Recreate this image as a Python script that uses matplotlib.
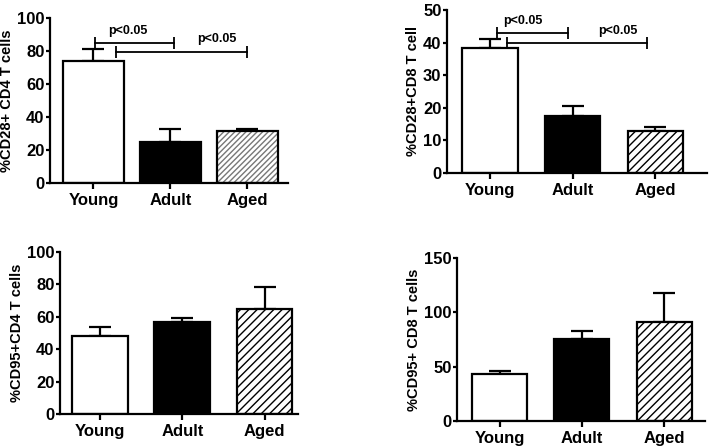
import matplotlib
matplotlib.use("Agg")
import matplotlib.pyplot as plt

plt.rcParams['font.family'] = ['Liberation Sans', 'DejaVu Sans']
plt.rcParams['font.weight'] = 'bold'
plt.rcParams['hatch.linewidth'] = 1.0

groups = ['Young', 'Adult', 'Aged']

cd28_cd4 = [74, 25, 31.5]
cd28_cd4_err = [7, 8, 1]
cd28_cd8 = [38.3, 17.6, 12.8]
cd28_cd8_err = [2.7, 2.9, 1.4]
cd95_cd4 = [48, 57, 65]
cd95_cd4_err = [5.5, 2, 13.5]
cd95_cd8 = [43, 75.5, 91]
cd95_cd8_err = [3, 7.5, 27]

# significance brackets: (x start, x end, y, text x, text y)
sig_cd4 = [(0.02, 1.05, 85, 0.45, 88.5), (0.29, 2.0, 79.5, 1.6, 83.5)]
sig_cd8 = [(0.08, 0.95, 43, 0.4, 44.7), (0.2, 1.9, 39.9, 1.55, 41.6)]

panels = [
    # data, err, ylabel, ylim, yticks, rect, xlim, width, sig, aged hatch style
    (cd28_cd4, cd28_cd4_err, '%CD28+ CD4 T cells', 100, [0, 20, 40, 60, 80, 100],
     [0.0703, 0.5906, 0.335, 0.369], (-0.565, 2.53), 0.8, sig_cd4, 'gray'),
    (cd28_cd8, cd28_cd8_err, '%CD28+CD8 T cell', 50, [0, 10, 20, 30, 40, 50],
     [0.6287, 0.613, 0.365, 0.3647], (-0.52, 2.62), 0.67, sig_cd8, 'hatch'),
    (cd95_cd4, cd95_cd4_err, '%CD95+CD4 T cells', 100, [0, 20, 40, 60, 80, 100],
     [0.0844, 0.0738, 0.335, 0.3624], (-0.49, 2.41), 0.68, None, 'hatch'),
    (cd95_cd8, cd95_cd8_err, '%CD95+ CD8 T cells', 150, [0, 50, 100, 150],
     [0.6428, 0.0582, 0.349, 0.3647], (-0.52, 2.5), 0.67, None, 'hatch'),
]

fig = plt.figure(figsize=(7.11, 4.47), dpi=100)

for data, err, ylab, ymax, yt, rect, xl, w, sig, aged in panels:
    ax = fig.add_axes(rect)
    x = list(range(len(groups)))
    ax.errorbar(x, data, yerr=[[0, 0, 0], err], fmt='none', ecolor='black',
                elinewidth=1.6, capsize=8, capthick=1.6, zorder=1)
    ax.bar(x[0], data[0], w, color='white', edgecolor='black', linewidth=1.6, zorder=2)
    ax.bar(x[1], data[1], w, color='black', edgecolor='black', linewidth=1.6, zorder=2)
    if aged == 'gray':
        ax.bar(x[2], data[2], w, color='white', edgecolor='#777777', hatch='//////',
               linewidth=0, zorder=2)
    else:
        ax.bar(x[2], data[2], w, color='white', edgecolor='black', hatch='////',
               linewidth=0, zorder=2)
    ax.bar(x[2], data[2], w, fill=False, edgecolor='black', linewidth=1.6, zorder=3)

    if sig:
        for x1, x2, yy, tx, ty in sig:
            ax.plot([x1, x2], [yy, yy], color='black', lw=1.3, marker='|',
                    markersize=8, markeredgewidth=1.3, zorder=4, clip_on=False)
            ax.text(tx, ty, 'p<0.05', ha='center', va='bottom', fontsize=9,
                    fontweight='bold')

    ax.set_xlim(*xl)
    ax.set_ylim(0, ymax)
    ax.set_yticks(yt)
    ax.set_xticks(x)
    ax.set_xticklabels(groups, fontsize=12, fontweight='bold')
    ax.tick_params(axis='y', labelsize=12, width=1.6, length=3, pad=1)
    ax.tick_params(axis='x', width=1.6, length=4, pad=3)
    for lbl in ax.get_yticklabels():
        lbl.set_fontweight('bold')
    ax.set_ylabel(ylab, fontsize=10.5, fontweight='bold', labelpad=2)
    ax.spines['top'].set_visible(False)
    ax.spines['right'].set_visible(False)
    ax.spines['left'].set_linewidth(1.6)
    ax.spines['bottom'].set_linewidth(1.6)

fig.savefig('out.png', dpi=100)
